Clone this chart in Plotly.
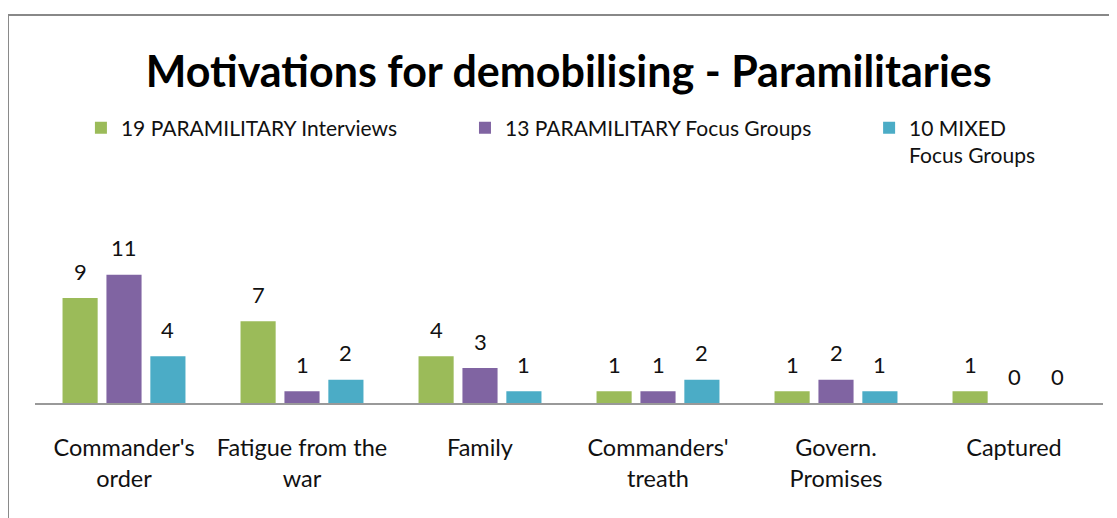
import plotly.graph_objects as go

categories = ["Commander's<br>order", "Fatigue from the<br>war", "Family",
              "Commanders'<br>treath", "Govern.<br>Promises", "Captured"]
series_names = ["19 PARAMILITARY Interviews", "13 PARAMILITARY Focus Groups",
                "10 MIXED<br>Focus Groups"]
interviews = [9, 7, 4, 1, 1, 1]
para_focus = [11, 1, 3, 1, 2, 0]
mixed_focus = [4, 2, 1, 2, 1, 0]
colors = ["#9BBB59", "#8064A2", "#4BACC6"]

FONT = "Lato"
W, H = 1109, 510
ML, MR, MT, MB = 27, 14, 192, 115
BARGAP, BARGROUPGAP = 0.26, 0.2

plot_w = W - ML - MR
slot_px = plot_w / len(categories) * (1 - BARGAP) / 3

fig = go.Figure()
legend_ids = ["legend", "legend2", "legend3"]
all_vals = [interviews, para_focus, mixed_focus]
for name, vals, col, lg in zip(series_names, all_vals, colors, legend_ids):
    fig.add_trace(go.Bar(
        x=categories, y=vals, name=name, legend=lg,
        marker=dict(color=col, line=dict(width=0)),
        hoverinfo="x+y+name",
    ))

annotations = []
for i, vals in enumerate(all_vals):
    for cat, v in zip(categories, vals):
        annotations.append(dict(
            x=cat, y=v, xref="x", yref="y", text=str(v), showarrow=False,
            xshift=(i - 1) * slot_px, yshift=27, yanchor="middle",
            font=dict(family=FONT, size=22, color="#111")))

legend_common = dict(orientation="h", yanchor="top", y=1.455, valign="top",
                     font=dict(family=FONT, size=21, color="#111"),
                     itemclick=False, itemdoubleclick=False, bgcolor="rgba(0,0,0,0)")

fig.update_layout(
    width=W, height=H,
    margin=dict(l=ML, r=MR, t=MT, b=MB),
    paper_bgcolor="white", plot_bgcolor="white",
    barmode="group", bargap=BARGAP, bargroupgap=BARGROUPGAP,
    title=dict(text="<b>Motivations for demobilising - Paramilitaries</b>",
               x=0.5056, xanchor="center", y=0.874, yanchor="middle",
               font=dict(family=FONT, size=43, color="black")),
    legend=dict(x=0.043, xanchor="left", **legend_common),
    legend2=dict(x=0.4026, xanchor="left", **legend_common),
    legend3=dict(x=0.781, xanchor="left", **legend_common),
    showlegend=True,
    xaxis=dict(showline=True, linecolor="#999", linewidth=1.5, showgrid=False,
               ticks="", tickfont=dict(family=FONT, size=23.5, color="#111"),
               ticklabelstandoff=23, range=[-0.5, 5.5]),
    yaxis=dict(visible=False, range=[0, 17.4]),
    annotations=annotations,
    shapes=[dict(type="rect", xref="paper", yref="paper",
                 x0=-0.0253, x1=1.1, y0=-1.0, y1=1.911,
                 line=dict(color="#888", width=2), layer="below")],
)

fig.write_html("out.html")
